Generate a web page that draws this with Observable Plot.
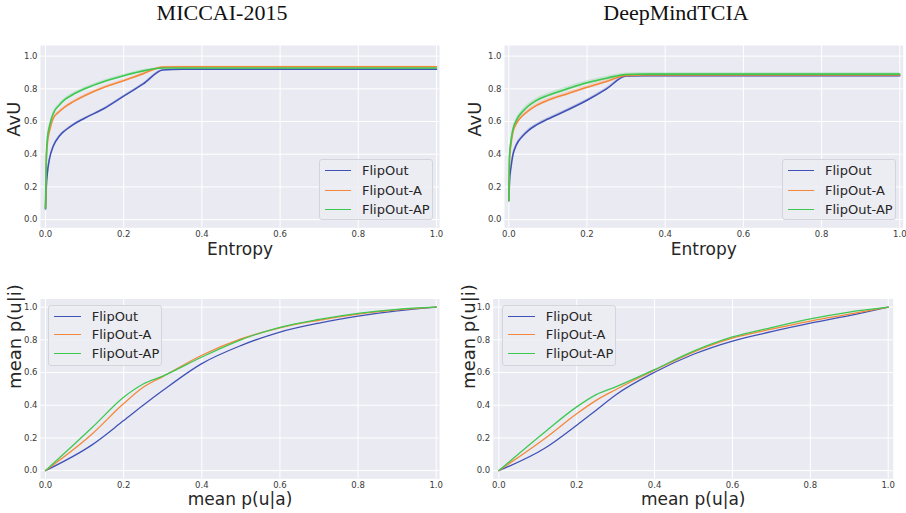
<!DOCTYPE html>
<html>
<head>
<meta charset="utf-8">
<script src="https://cdn.jsdelivr.net/npm/d3@7"></script>
<script src="https://cdn.jsdelivr.net/npm/@observablehq/plot@0.6"></script>
<style>
  html, body { margin: 0; padding: 0; background: #fff; }
  #root { position: relative; width: 906px; height: 513px; overflow: hidden; font-family: "DejaVu Sans", sans-serif; }
  .title { position: absolute; width: 300px; text-align: center; font-family: "Liberation Serif", "DejaVu Serif", serif; font-size: 22px; line-height: 22px; color: #111; }
  .legend { position: absolute; width: 112px; height: 59px; border: 1px solid #d4d4dc; border-radius: 3px; background: rgba(236,236,243,0.85); font-size: 13px; color: #262626; }
  .legend .row { position: absolute; left: 0; height: 16px; width: 112px; }
  .legend .sw { position: absolute; top: 7px; height: 0; border-top: 1.6px solid; }
  .legend .lb { position: absolute; top: 0; line-height: 16px; white-space: nowrap; }
  svg.panel { position: absolute; }
</style>
</head>
<body>
<div id="root"></div>
<script>
// ---------- data ----------
const seriesNames = ["FlipOut", "FlipOut-A", "FlipOut-AP"];
const seriesColors = ["#4152b6", "#f5873a", "#3dc850"];
const panelTitles = ["MICCAI-2015", "DeepMindTCIA"];
const xTicks = [0, 0.2, 0.4, 0.6, 0.8, 1.0];
const yTicks = [0, 0.2, 0.4, 0.6, 0.8, 1.0];

// AvU vs Entropy (top row)
const entropyX = [0, 0.002, 0.005, 0.01, 0.02, 0.035, 0.05, 0.07, 0.1, 0.15, 0.2, 0.25, 0.3, 0.35, 1.0];
const avuMiccaiFlipOut   = [0.065, 0.20, 0.29, 0.37, 0.45, 0.51, 0.545, 0.58, 0.62, 0.68, 0.755, 0.83, 0.915, 0.92, 0.92];
const avuMiccaiFlipOutA  = [0.07, 0.35, 0.47, 0.54, 0.62, 0.66, 0.69, 0.72, 0.758, 0.81, 0.85, 0.893, 0.933, 0.935, 0.935];
const avuMiccaiFlipOutAP = [0.07, 0.38, 0.50, 0.57, 0.65, 0.70, 0.735, 0.765, 0.80, 0.845, 0.88, 0.91, 0.927, 0.927, 0.927];
const avuMiccaiBandFlipOut   = [0, 0.005, 0.005, 0.005, 0.005, 0.005, 0.005, 0.005, 0.005, 0.005, 0.005, 0.005, 0.004, 0.003, 0.003];
const avuMiccaiBandFlipOutA  = [0, 0.007, 0.007, 0.007, 0.007, 0.007, 0.007, 0.007, 0.007, 0.007, 0.007, 0.006, 0.004, 0.003, 0.003];
const avuMiccaiBandFlipOutAP = [0, 0.009, 0.009, 0.009, 0.009, 0.009, 0.009, 0.009, 0.009, 0.009, 0.008, 0.007, 0.004, 0.003, 0.003];

const avuDeepFlipOut   = [0.116, 0.24, 0.31, 0.39, 0.46, 0.51, 0.545, 0.578, 0.615, 0.67, 0.73, 0.80, 0.878, 0.88, 0.88];
const avuDeepFlipOutA  = [0.116, 0.38, 0.45, 0.53, 0.59, 0.635, 0.665, 0.697, 0.73, 0.77, 0.81, 0.845, 0.882, 0.885, 0.885];
const avuDeepFlipOutAP = [0.116, 0.40, 0.47, 0.545, 0.61, 0.66, 0.695, 0.728, 0.76, 0.80, 0.837, 0.865, 0.888, 0.89, 0.89];
const avuDeepBandFlipOut   = [0, 0.008, 0.008, 0.008, 0.008, 0.008, 0.008, 0.008, 0.008, 0.008, 0.008, 0.008, 0.008, 0.007, 0.007];
const avuDeepBandFlipOutA  = [0, 0.011, 0.011, 0.011, 0.011, 0.011, 0.011, 0.011, 0.011, 0.011, 0.011, 0.010, 0.009, 0.008, 0.008];
const avuDeepBandFlipOutAP = [0, 0.013, 0.013, 0.013, 0.013, 0.013, 0.013, 0.013, 0.013, 0.013, 0.012, 0.011, 0.009, 0.008, 0.008];

// mean p(u|i) vs mean p(u|a) (bottom row)
const puaX = [0, 0.12, 0.2, 0.25, 0.3, 0.4, 0.5, 0.6, 0.7, 0.8, 0.9, 1.0];
const puiMiccaiFlipOut   = [0, 0.159, 0.306, 0.40, 0.49, 0.655, 0.765, 0.848, 0.903, 0.945, 0.977, 1.0];
const puiMiccaiFlipOutA  = [0, 0.226, 0.41, 0.51, 0.575, 0.706, 0.806, 0.874, 0.92, 0.958, 0.984, 1.0];
const puiMiccaiFlipOutAP = [0, 0.265, 0.449, 0.53, 0.578, 0.695, 0.80, 0.877, 0.925, 0.962, 0.987, 1.0];

const puiDeepFlipOut   = [0, 0.14, 0.278, 0.37, 0.463, 0.602, 0.712, 0.793, 0.85, 0.902, 0.948, 1.0];
const puiDeepFlipOutA  = [0, 0.20, 0.348, 0.43, 0.495, 0.614, 0.725, 0.81, 0.865, 0.915, 0.957, 1.0];
const puiDeepFlipOutAP = [0, 0.24, 0.39, 0.465, 0.512, 0.618, 0.731, 0.818, 0.875, 0.928, 0.97, 1.0];

// ---------- helpers ----------
function rows(xs, valueLists, bandLists) {
  const out = [];
  valueLists.forEach((vals, k) => {
    xs.forEach((x, i) => {
      const b = bandLists ? bandLists[k][i] : 0;
      out.push({s: seriesNames[k], x, y: vals[i], lo: vals[i] - b, hi: vals[i] + b});
    });
  });
  return out;
}

const root = document.getElementById("root");

function panel(cfg) {
  const data = rows(cfg.xs, cfg.values, cfg.bands);
  const marks = [
    Plot.frame({fill: "#eaeaf2", stroke: "none"}),
    Plot.gridX({ticks: xTicks, stroke: "#ffffff", strokeOpacity: 1, strokeWidth: 1}),
    Plot.gridY({ticks: yTicks, stroke: "#ffffff", strokeOpacity: 1, strokeWidth: 1}),
    Plot.axisX({ticks: xTicks, tickFormat: d3.format(".1f"), tickSize: 0, tickPadding: 3, fontSize: 8.5, fill: "#3a3a3a", label: null}),
    Plot.axisY({ticks: yTicks, tickFormat: d3.format(".1f"), tickSize: 0, tickPadding: 3, fontSize: 8.5, fill: "#3a3a3a", label: null})
  ];
  if (cfg.bands) {
    marks.push(Plot.areaY(data, {x: "x", y1: "lo", y2: "hi", z: "s", fill: "s", fillOpacity: 0.22, curve: "monotone-x"}));
  }
  marks.push(Plot.line(data, {x: "x", y: "y", z: "s", stroke: "s", strokeWidth: cfg.lineWidth, curve: "monotone-x"}));
  marks.push(Plot.text([cfg.xLabel], {text: d => d, frameAnchor: "bottom", dy: cfg.xLabelDy, lineAnchor: "middle", fontSize: 17, fill: "#262626"}));
  marks.push(Plot.text([cfg.yLabel], {text: d => d, frameAnchor: "left", dx: -cfg.yLabelDx, rotate: -90, lineAnchor: "middle", fontSize: 18, fill: "#262626"}));

  const svg = Plot.plot({
    width: cfg.width, height: cfg.height,
    marginLeft: cfg.ml, marginRight: cfg.mr, marginTop: cfg.mt, marginBottom: cfg.mb,
    x: {domain: cfg.xDomain},
    y: {domain: cfg.yDomain},
    color: {domain: seriesNames, range: seriesColors},
    style: {fontFamily: "DejaVu Sans, sans-serif", background: "transparent", overflow: "visible"},
    marks
  });
  svg.classList.add("panel");
  svg.style.left = cfg.left + "px";
  svg.style.top = cfg.top + "px";
  root.appendChild(svg);
}

function legend(left, top, lineX0, lineX1, textX, rowYs) {
  const box = document.createElement("div");
  box.className = "legend";
  box.style.left = left + "px";
  box.style.top = top + "px";
  seriesNames.forEach((name, i) => {
    const row = document.createElement("div");
    row.className = "row";
    row.style.top = (rowYs[i] - 8) + "px";
    const sw = document.createElement("div");
    sw.className = "sw";
    sw.style.left = lineX0 + "px";
    sw.style.width = (lineX1 - lineX0) + "px";
    sw.style.borderTopColor = seriesColors[i];
    const lb = document.createElement("div");
    lb.className = "lb";
    lb.style.left = textX + "px";
    lb.textContent = name;
    row.appendChild(sw);
    row.appendChild(lb);
    box.appendChild(row);
  });
  root.appendChild(box);
}

function title(text, cx, top) {
  const t = document.createElement("div");
  t.className = "title";
  t.style.left = (cx - 150) + "px";
  t.style.top = top + "px";
  t.textContent = text;
  root.appendChild(t);
}

// ---------- panels ----------
panel({left: 0, top: 30, width: 450, height: 240, ml: 40, mr: 11, mt: 15, mb: 42.7,
  xDomain: [-0.0128, 1.0077], yDomain: [-0.05, 1.065],
  xs: entropyX, values: [avuMiccaiFlipOut, avuMiccaiFlipOutA, avuMiccaiFlipOutAP],
  bands: [avuMiccaiBandFlipOut, avuMiccaiBandFlipOutA, avuMiccaiBandFlipOutAP],
  lineWidth: 1.6, xLabel: "Entropy", yLabel: "AvU", xLabelDy: 22, yLabelDx: 26.5});

panel({left: 450, top: 30, width: 456, height: 240, ml: 54, mr: 3.3, mt: 15, mb: 42.7,
  xDomain: [-0.011, 1.0087], yDomain: [-0.05, 1.065],
  xs: entropyX, values: [avuDeepFlipOut, avuDeepFlipOutA, avuDeepFlipOutAP],
  bands: [avuDeepBandFlipOut, avuDeepBandFlipOutA, avuDeepBandFlipOutAP],
  lineWidth: 1.6, xLabel: "Entropy", yLabel: "AvU", xLabelDy: 22, yLabelDx: 29});

panel({left: 0, top: 280, width: 450, height: 233, ml: 40, mr: 11, mt: 18.5, mb: 34.7,
  xDomain: [-0.0128, 1.0084], yDomain: [-0.05, 1.05],
  xs: puaX, values: [puiMiccaiFlipOut, puiMiccaiFlipOutA, puiMiccaiFlipOutAP],
  bands: null, lineWidth: 1.3, xLabel: "mean p(u|a)", yLabel: "mean p(u|i)", xLabelDy: 21, yLabelDx: 25});

panel({left: 450, top: 280, width: 456, height: 233, ml: 42.7, mr: 13.3, mt: 18.5, mb: 34.7,
  xDomain: [-0.0144, 1.0128], yDomain: [-0.05, 1.05],
  xs: puaX, values: [puiDeepFlipOut, puiDeepFlipOutA, puiDeepFlipOutAP],
  bands: null, lineWidth: 1.3, xLabel: "mean p(u|a)", yLabel: "mean p(u|i)", xLabelDy: 21, yLabelDx: 24});

// ---------- legends & titles ----------
legend(319, 159, 5, 31, 42, [11, 31, 50]);
legend(782, 159, 5, 31, 42, [11, 31, 50]);
legend(48, 305, 5, 32, 42.7, [10.7, 29.3, 48.3]);
legend(502, 305, 5, 32, 42.7, [10.7, 29.3, 48.3]);

title(panelTitles[0], 222, 2);
title(panelTitles[1], 676, 2);
</script>
</body>
</html>
